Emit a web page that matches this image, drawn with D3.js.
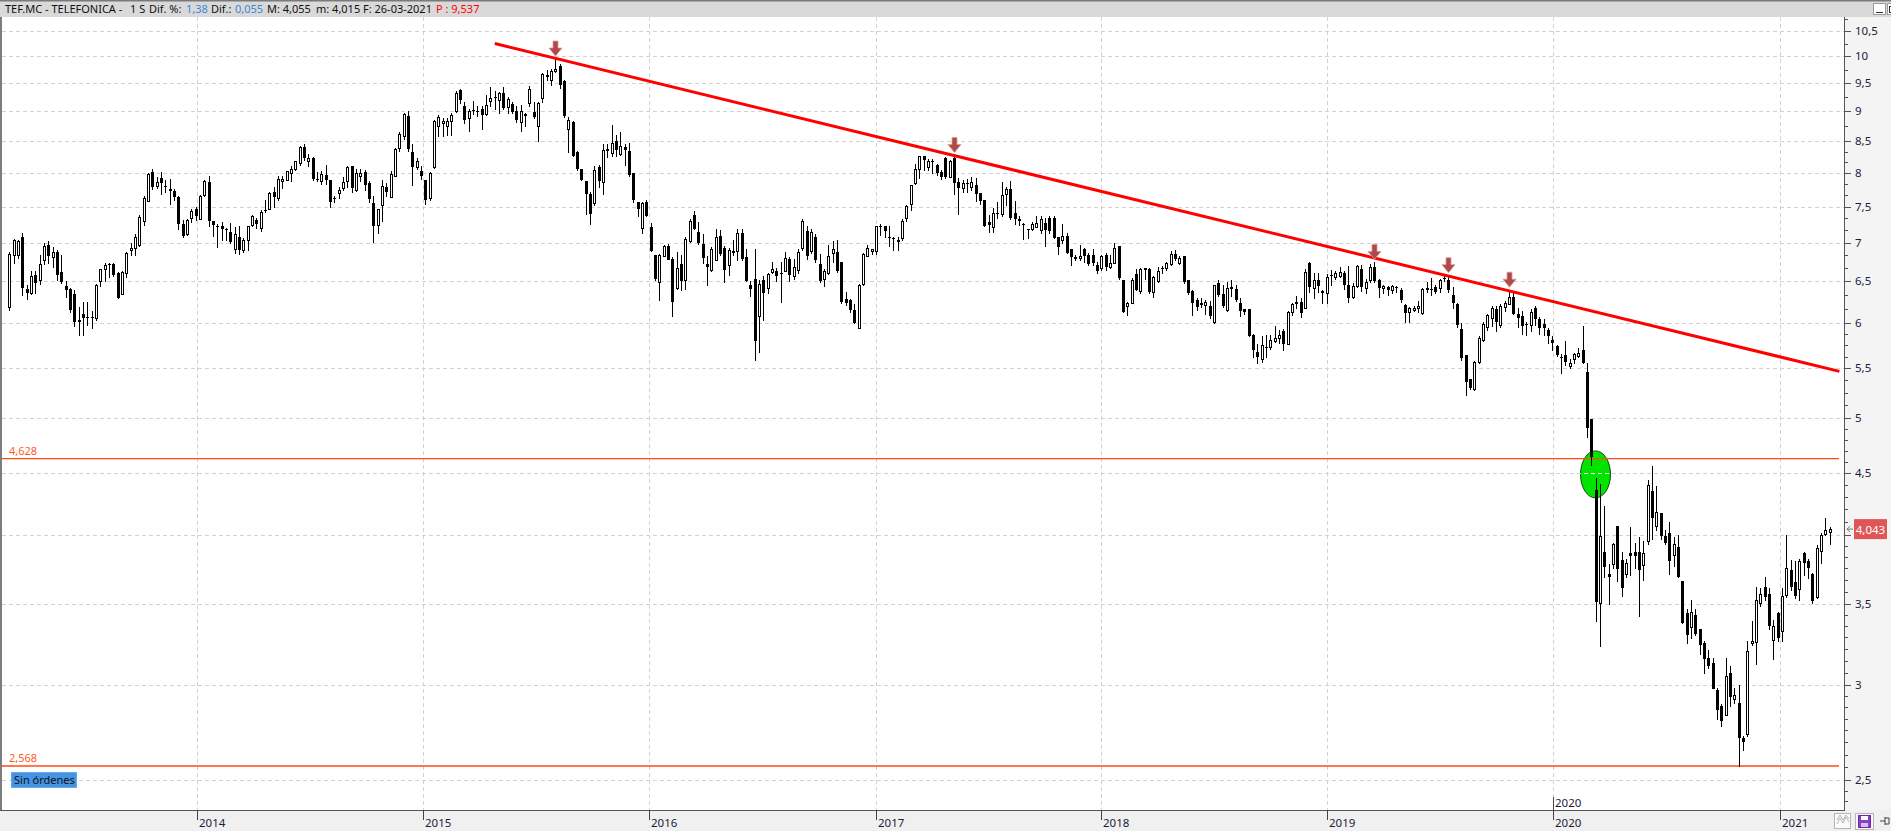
<!DOCTYPE html>
<html>
<head>
<meta charset="utf-8">
<script src="https://cdn.jsdelivr.net/npm/d3@7"></script>
<style>
  body { margin: 0; background: #fff; overflow: hidden; }
  svg { display: block; font-family: "Noto Sans", "DejaVu Sans", sans-serif; }
</style>
</head>
<body>
<svg id="chart" width="1891" height="831"></svg>
<script>
// weekly candles (monday of each week), first one is 2013-03-04
const firstWeek = new Date(2013, 2, 4);

// [open, high, low, close], one array per year
const ohlc2013 = [
  [6.19,6.88,6.15,6.85],[6.83,7.05,6.73,7.03],[6.83,7.04,6.80,7.02],[7.08,7.13,6.33,6.42],
  [6.41,6.45,6.28,6.36],[6.36,6.63,6.34,6.57],[6.58,6.63,6.36,6.48],[6.52,6.84,6.47,6.72],
  [6.77,6.99,6.72,6.95],[6.97,7.02,6.73,6.82],[6.80,6.94,6.68,6.87],[6.87,6.90,6.51,6.58],
  [6.62,6.84,6.48,6.50],[6.44,6.50,6.31,6.39],[6.40,6.42,6.13,6.15],[6.34,6.39,5.97,6.01],
  [6.03,6.19,5.87,6.01],[6.10,6.25,5.87,6.05],[6.07,6.25,5.98,6.06],[6.07,6.14,5.94,6.06],
  [6.07,6.47,6.03,6.46],[6.50,6.66,6.44,6.65],[6.66,6.73,6.50,6.71],[6.72,6.73,6.55,6.71],
  [6.72,6.73,6.57,6.58],[6.61,6.62,6.29,6.30],[6.35,6.63,6.34,6.62],[6.60,6.88,6.55,6.86],
  [6.91,7.00,6.84,6.93],[6.93,7.12,6.84,7.08],[6.96,7.38,6.95,7.35],[7.29,7.66,7.24,7.62],
  [7.59,8.00,7.58,7.99],[8.02,8.06,7.75,7.80],[7.80,7.94,7.77,7.86],[7.92,8.02,7.68,7.85],
  [7.80,7.89,7.72,7.79],[7.75,7.90,7.54,7.72],[7.73,7.76,7.60,7.64],[7.64,7.65,7.18,7.26],
  [7.26,7.31,7.07,7.10],[7.11,7.33,7.10,7.31],[7.34,7.46,7.28,7.44],[7.47,7.49,7.31,7.37]
];
const ohlc2014 = [
  [7.33,7.67,7.32,7.66],[7.67,7.89,7.65,7.88],[7.86,7.95,7.22,7.29],[7.29,7.29,7.09,7.23],
  [7.22,7.25,6.94,7.21],[7.22,7.28,7.04,7.18],[7.18,7.20,7.04,7.17],[7.15,7.27,6.99,7.01],
  [6.92,7.21,6.86,7.12],[7.08,7.22,6.85,6.90],[6.89,7.06,6.87,7.03],[7.03,7.23,6.90,7.22],
  [7.24,7.38,7.22,7.36],[7.31,7.34,7.20,7.25],[7.20,7.45,7.16,7.43],[7.45,7.60,7.43,7.44],
  [7.47,7.72,7.46,7.70],[7.71,7.79,7.50,7.64],[7.62,7.95,7.60,7.90],[7.87,7.95,7.77,7.90],
  [7.90,8.03,7.89,8.03],[8.00,8.10,7.88,8.06],[8.06,8.19,8.04,8.18],[8.14,8.42,8.13,8.40],
  [8.40,8.45,8.20,8.22],[8.20,8.30,8.10,8.24],[8.24,8.25,7.89,7.92],[7.91,8.02,7.87,7.90],
  [7.89,8.03,7.83,7.99],[7.97,8.12,7.83,7.89],[7.89,7.89,7.50,7.56],[7.62,7.65,7.56,7.60],
  [7.69,7.79,7.62,7.74],[7.77,7.94,7.74,7.86],[7.88,8.11,7.78,8.09],[8.10,8.11,7.71,7.77],
  [7.74,8.06,7.73,8.00],[7.96,8.06,7.87,8.00],[8.02,8.04,7.74,7.82],[7.85,7.88,7.57,7.62],
  [7.55,7.66,7.01,7.23],[7.23,7.47,7.13,7.46],[7.52,7.89,7.29,7.80],[7.78,7.84,7.65,7.70],
  [7.65,8.03,7.64,7.99],[7.96,8.39,7.95,8.38],[8.39,8.65,8.35,8.62],[8.58,8.97,8.54,8.95],
  [8.92,9.00,8.35,8.38],[8.33,8.45,7.82,8.10],[8.10,8.24,8.06,8.19],[8.03,8.10,7.91,7.96]
];
const ohlc2015 = [
  [7.89,7.89,7.54,7.60],[7.62,8.02,7.60,8.00],[8.09,8.85,8.08,8.83],[8.76,8.94,8.58,8.91],
  [8.80,8.88,8.58,8.84],[8.76,8.88,8.60,8.84],[8.83,8.97,8.60,8.94],[9.01,9.36,8.99,9.33],
  [9.37,9.40,9.15,9.20],[9.09,9.17,8.80,8.85],[8.89,9.04,8.67,9.01],[9.02,9.18,8.95,9.00],
  [9.01,9.10,8.93,9.00],[9.05,9.10,8.70,8.94],[8.95,9.28,8.94,9.11],[9.18,9.43,9.09,9.24],
  [9.26,9.36,9.04,9.25],[9.20,9.34,8.97,9.33],[9.33,9.44,9.04,9.07],[9.07,9.25,8.98,9.21],
  [9.13,9.16,8.97,8.99],[9.01,9.10,8.82,8.85],[8.82,9.11,8.67,9.01],[8.96,8.98,8.75,8.93],
  [9.14,9.45,9.10,9.39],[8.99,9.16,8.88,8.90],[8.75,9.17,8.50,9.14],[9.24,9.69,9.17,9.67],
  [9.66,9.75,9.55,9.63],[9.57,9.76,9.46,9.73],[9.74,9.95,9.71,9.77],[9.81,9.86,9.42,9.46],
  [9.54,9.55,8.90,8.92],[8.71,8.90,8.32,8.86],[8.82,8.84,8.27,8.27],[8.32,8.34,8.04,8.06],
  [8.06,8.06,7.89,7.89],[7.87,7.87,7.39,7.68],[7.69,7.72,7.25,7.40],[7.55,8.10,7.52,8.05],
  [8.09,8.12,7.79,7.87],[7.86,8.45,7.68,8.36],[8.38,8.45,8.25,8.35],[8.32,8.77,8.27,8.48],
  [8.50,8.60,8.27,8.36],[8.30,8.65,8.28,8.43],[8.40,8.45,8.12,8.35],[8.34,8.48,7.96,7.96],
  [8.00,8.00,7.57,7.59],[7.56,7.57,7.36,7.46],[7.20,7.56,7.13,7.55],[7.56,7.59,7.36,7.36]
];
const ohlc2016 = [
  [7.21,7.27,6.89,6.89],[6.83,6.84,6.52,6.52],[6.49,6.85,6.27,6.84],[6.83,6.97,6.82,6.96],
  [6.96,6.98,6.78,6.78],[6.79,6.81,6.08,6.25],[6.42,6.88,6.40,6.67],[6.72,6.84,6.39,6.50],
  [6.52,7.08,6.40,7.05],[7.02,7.32,7.01,7.30],[7.38,7.44,7.18,7.19],[7.14,7.28,6.98,6.99],
  [6.98,7.11,6.73,6.79],[6.72,6.82,6.46,6.68],[6.65,6.94,6.63,6.92],[6.78,7.19,6.77,7.08],
  [7.09,7.17,6.84,6.85],[6.93,6.95,6.49,6.64],[6.70,6.93,6.58,6.90],[6.89,7.04,6.83,6.87],
  [6.89,7.19,6.77,7.13],[7.13,7.19,6.77,6.78],[6.81,6.92,6.50,6.51],[6.45,6.50,6.32,6.40],
  [6.53,6.92,5.59,5.80],[6.08,6.52,5.68,6.47],[6.52,6.57,6.03,6.36],[6.42,6.61,6.36,6.59],
  [6.62,6.74,6.60,6.66],[6.63,6.67,6.50,6.57],[6.61,6.75,6.25,6.60],[6.63,6.88,6.63,6.80],
  [6.78,6.81,6.50,6.57],[6.57,6.79,6.53,6.68],[6.64,6.92,6.61,6.87],[6.92,7.32,6.90,7.29],
  [7.16,7.22,6.79,6.83],[6.89,7.18,6.86,7.14],[7.08,7.11,6.75,6.77],[6.72,6.85,6.49,6.51],
  [6.53,6.65,6.44,6.63],[6.60,6.97,6.59,6.82],[6.87,7.02,6.74,6.92],[6.87,7.03,6.62,6.63],
  [6.74,6.74,6.24,6.24],[6.28,6.37,6.21,6.23],[6.27,6.28,6.13,6.15],[6.15,6.22,6.00,6.00],
  [5.95,6.47,5.94,6.46],[6.47,6.86,6.46,6.85],[6.83,6.97,6.82,6.93],[6.88,6.92,6.85,6.91]
];
const ohlc2017 = [
  [6.88,7.23,6.85,7.22],[7.23,7.25,7.10,7.21],[7.22,7.23,7.08,7.15],[7.07,7.23,6.95,7.06],
  [7.06,7.07,6.90,7.05],[7.02,7.07,6.90,7.04],[7.07,7.33,7.04,7.30],[7.34,7.52,7.29,7.51],
  [7.53,7.82,7.45,7.81],[7.84,8.14,7.83,8.06],[8.05,8.27,7.93,8.26],[8.26,8.27,8.04,8.19],
  [8.09,8.21,8.04,8.18],[8.18,8.21,8.00,8.16],[8.13,8.14,7.97,8.00],[8.02,8.04,7.90,7.94],
  [8.24,8.25,7.93,7.94],[7.95,8.20,7.94,8.19],[8.24,8.27,7.68,7.86],[7.86,7.93,7.40,7.77],
  [7.77,7.89,7.72,7.85],[7.84,7.90,7.72,7.83],[7.78,7.94,7.74,7.86],[7.82,7.93,7.58,7.69],
  [7.70,7.70,7.54,7.58],[7.59,7.60,7.22,7.22],[7.28,7.38,7.15,7.24],[7.21,7.48,7.15,7.41],
  [7.41,7.57,7.34,7.40],[7.40,7.86,7.36,7.67],[7.67,7.79,7.52,7.75],[7.75,7.87,7.32,7.33],
  [7.41,7.58,7.26,7.32],[7.32,7.36,7.24,7.29],[7.25,7.27,7.05,7.24],[7.18,7.19,7.06,7.17],
  [7.18,7.28,7.17,7.25],[7.22,7.37,7.21,7.27],[7.18,7.36,7.13,7.33],[7.27,7.34,6.95,7.17],
  [7.34,7.36,7.13,7.16],[7.34,7.36,7.06,7.07],[7.07,7.08,6.85,6.93],[7.04,7.25,6.99,7.09],
  [7.09,7.13,6.86,6.86],[6.91,6.92,6.71,6.80],[6.81,6.83,6.77,6.79],[6.79,6.97,6.77,6.82],
  [6.91,6.93,6.75,6.82],[6.84,6.86,6.71,6.72],[6.84,6.91,6.71,6.73],[6.71,6.74,6.60,6.63]
];
const ohlc2018 = [
  [6.67,6.83,6.64,6.82],[6.83,6.86,6.64,6.68],[6.68,6.83,6.67,6.73],[6.74,6.99,6.74,6.93],
  [6.96,6.96,6.53,6.55],[6.52,6.52,6.13,6.13],[6.21,6.25,6.09,6.24],[6.24,6.54,6.23,6.52],
  [6.59,6.65,6.39,6.39],[6.37,6.67,6.36,6.65],[6.66,6.67,6.53,6.67],[6.66,6.67,6.35,6.37],
  [6.37,6.57,6.31,6.55],[6.50,6.68,6.49,6.63],[6.67,6.69,6.61,6.66],[6.66,6.75,6.64,6.73],
  [6.72,6.89,6.70,6.85],[6.85,6.90,6.77,6.79],[6.73,6.82,6.72,6.80],[6.82,6.82,6.48,6.49],
  [6.51,6.52,6.34,6.35],[6.38,6.39,6.09,6.23],[6.27,6.29,6.15,6.19],[6.22,6.30,6.19,6.23],
  [6.21,6.27,6.10,6.25],[6.20,6.26,6.06,6.08],[6.01,6.46,6.00,6.45],[6.48,6.52,6.32,6.33],
  [6.34,6.45,6.19,6.20],[6.15,6.49,6.14,6.42],[6.43,6.51,6.32,6.40],[6.40,6.45,6.26,6.27],
  [6.23,6.29,6.08,6.13],[6.16,6.16,6.10,6.13],[6.16,6.16,5.85,5.85],[5.86,5.88,5.62,5.69],
  [5.68,5.76,5.56,5.63],[5.60,5.85,5.57,5.75],[5.73,5.86,5.62,5.72],[5.73,5.86,5.71,5.81],
  [5.80,5.97,5.79,5.83],[5.83,5.92,5.77,5.86],[5.91,5.93,5.70,5.76],[5.77,6.14,5.76,6.13],
  [6.13,6.24,6.09,6.22],[6.24,6.32,6.17,6.25],[6.25,6.29,6.07,6.12],[6.18,6.65,6.17,6.62],
  [6.73,6.75,6.37,6.43],[6.41,6.61,6.30,6.51],[6.51,6.61,6.37,6.44],[6.38,6.39,6.23,6.36],
  [6.35,6.59,6.23,6.55]
];
const ohlc2019 = [
  [6.58,6.64,6.45,6.57],[6.55,6.63,6.53,6.60],[6.57,6.68,6.56,6.62],[6.61,6.63,6.41,6.46],
  [6.46,6.69,6.25,6.30],[6.30,6.48,6.30,6.44],[6.44,6.70,6.43,6.69],[6.65,6.70,6.38,6.42],
  [6.42,6.53,6.36,6.49],[6.51,6.72,6.49,6.68],[6.68,6.74,6.49,6.50],[6.51,6.53,6.31,6.41],
  [6.41,6.45,6.35,6.44],[6.43,6.44,6.33,6.39],[6.39,6.45,6.35,6.44],[6.43,6.44,6.37,6.42],
  [6.39,6.42,6.25,6.27],[6.21,6.22,6.01,6.12],[6.12,6.19,6.01,6.17],[6.16,6.20,6.14,6.18],
  [6.18,6.26,6.13,6.20],[6.11,6.42,6.10,6.40],[6.42,6.49,6.37,6.39],[6.41,6.54,6.33,6.40],
  [6.43,6.46,6.36,6.37],[6.41,6.53,6.37,6.51],[6.54,6.58,6.50,6.53],[6.52,6.57,6.37,6.40],
  [6.33,6.43,6.18,6.23],[6.22,6.23,5.96,5.98],[5.93,6.00,5.59,5.61],[5.64,5.64,5.23,5.36],
  [5.39,5.39,5.29,5.30],[5.29,5.58,5.28,5.57],[5.57,5.85,5.56,5.83],[5.81,6.01,5.80,5.99],
  [5.95,6.10,5.92,6.09],[6.05,6.20,5.97,6.17],[6.16,6.20,5.91,6.01],[5.98,6.22,5.96,6.20],
  [6.18,6.26,6.14,6.23],[6.23,6.39,6.22,6.31],[6.31,6.38,6.10,6.11],[6.11,6.18,5.96,6.06],
  [6.08,6.14,5.88,5.96],[5.99,6.01,5.86,5.98],[5.98,6.16,5.91,6.13],[6.18,6.20,5.98,6.05],
  [6.05,6.07,5.88,5.95],[5.99,6.05,5.86,5.94],[5.92,5.94,5.77,5.85],[5.81,5.85,5.70,5.78]
];
const ohlc2020 = [
  [5.74,5.75,5.63,5.64],[5.62,5.65,5.45,5.61],[5.64,5.80,5.54,5.57],[5.53,5.60,5.51,5.56],
  [5.60,5.67,5.56,5.65],[5.64,5.72,5.62,5.67],[5.70,5.97,5.56,5.56],[5.46,5.56,4.82,4.90],
  [4.99,4.99,4.57,4.64],[4.36,4.46,3.39,3.52],[3.51,4.41,3.23,3.99],[3.87,4.23,3.69,3.76],
  [3.71,3.78,3.50,3.69],[3.78,3.94,3.75,3.93],[4.07,4.07,3.66,3.75],[3.81,3.87,3.56,3.61],
  [3.71,3.82,3.69,3.79],[3.86,4.06,3.70,3.84],[3.87,3.94,3.75,3.84],[3.87,3.98,3.42,3.74],
  [3.77,3.95,3.67,3.86],[3.95,4.44,3.93,4.40],[4.35,4.56,3.97,4.13],[4.07,4.39,4.04,4.18],
  [4.17,4.17,3.97,3.99],[3.99,4.04,3.93,3.94],[4.01,4.10,3.71,3.80],[3.85,3.98,3.77,3.93],
  [3.91,4.00,3.69,3.69],[3.66,3.66,3.38,3.38],[3.44,3.47,3.25,3.30],[3.35,3.53,3.28,3.45],
  [3.43,3.47,3.30,3.31],[3.34,3.34,3.18,3.24],[3.25,3.26,3.07,3.15],[3.16,3.21,3.10,3.11],
  [3.13,3.16,2.98,2.98],[2.97,2.98,2.81,2.86],[2.88,2.89,2.77,2.80],[2.83,3.16,2.83,3.05],
  [3.07,3.11,2.88,2.93],[2.92,2.98,2.90,2.94],[2.90,3.00,2.57,2.71],[2.71,2.72,2.65,2.69],
  [2.73,3.26,2.72,3.20],[3.25,3.39,3.24,3.26],[3.26,3.62,3.12,3.53],[3.51,3.61,3.49,3.57],
  [3.62,3.69,3.53,3.55],[3.57,3.61,3.34,3.36],[3.27,3.40,3.15,3.36],[3.44,3.45,3.26,3.28]
];
const ohlc2021 = [
  [3.33,3.61,3.26,3.56],[3.56,4.00,3.55,3.75],[3.74,3.81,3.60,3.62],[3.65,3.80,3.54,3.55],
  [3.60,3.82,3.53,3.80],[3.86,3.87,3.70,3.79],[3.80,3.82,3.68,3.75],[3.71,3.72,3.51,3.52],
  [3.55,3.92,3.54,3.90],[3.88,4.01,3.79,4.00],[4.01,4.13,4.00,4.04],[4.02,4.06,3.93,4.043]
];

const yearTicks = [2014, 2015, 2016, 2017, 2018, 2019, 2020, 2021];
const priceTicks = [2.5, 3, 3.5, 4, 4.5, 5, 5.5, 6, 6.5, 7, 7.5, 8, 8.5, 9, 9.5, 10, 10.5];
const touchWeeks = [126, 218, 315, 332, 346];          // candles marked with an arrow
const trendStart = { date: new Date(2015, 3, 27), price: 10.25 };
const trendEnd = { date: new Date(2021, 3, 7), price: 5.47 };
const levels = [4.628, 2.568];
const lastPrice = 4.043;
const breakMark = { date: new Date(2020, 2, 9), price: 4.49 };

const headerParts = [
  { t: "TEF.MC - TELEFONICA -", x: 5, c: "#111" },
  { t: "1 S", x: 130, c: "#111" },
  { t: "Dif. %:", x: 149, c: "#111" },
  { t: "1,38", x: 186, c: "#3d86d6" },
  { t: "Dif.:", x: 211, c: "#111" },
  { t: "0,055", x: 235, c: "#3d86d6" },
  { t: "M: 4,055", x: 267, c: "#111" },
  { t: "m: 4,015", x: 316, c: "#111" },
  { t: "F: 26-03-2021", x: 363, c: "#111" },
  { t: "P : 9,537", x: 436, c: "#ff0000" }
];

const W = 1891, H = 831;
const plotTop = 17, plotBottom = 810, axisX = 1844;
const comma = v => String(v).replace(".", ",");

const candles = [].concat(ohlc2013, ohlc2014, ohlc2015, ohlc2016, ohlc2017,
                          ohlc2018, ohlc2019, ohlc2020, ohlc2021)
  .map((d, i) => ({ date: d3.timeWeek.offset(firstWeek, i), o: d[0], h: d[1], l: d[2], c: d[3] }));

const x = d3.scaleTime()
  .domain([new Date(2014, 0, 1), new Date(2021, 0, 1)])
  .range([197, 1780]);
const y = d3.scaleLog().domain([2.5, 10.5]).range([780, 31]);

const svg = d3.select("#chart");

// backgrounds
svg.append("rect").attr("width", W).attr("height", H).attr("fill", "#ffffff");
svg.append("rect").attr("x", axisX).attr("y", plotTop).attr("width", W - axisX).attr("height", H - plotTop).attr("fill", "#f4f4f4");
svg.append("rect").attr("x", 0).attr("y", plotBottom).attr("width", W).attr("height", H - plotBottom).attr("fill", "#f0f0f0");

// header bar
svg.append("rect").attr("width", W).attr("height", plotTop).attr("fill", "#d9d9d9");
svg.append("rect").attr("width", W).attr("height", 1.5).attr("fill", "#7a7a7a");
svg.append("g").selectAll("text").data(headerParts).join("text")
  .attr("x", d => d.x).attr("y", 13)
  .attr("font-size", 11)
  .attr("fill", d => d.c)
  .text(d => d.t);
svg.append("rect").attr("x", 1873.5).attr("y", 3.5).attr("width", 12).attr("height", 11)
  .attr("fill", "#fff").attr("stroke", "#9a9a9a");
svg.append("line").attr("x1", 1876).attr("x2", 1883).attr("y1", 12.5).attr("y2", 12.5).attr("stroke", "#333");
svg.append("rect").attr("x", 1887.5).attr("y", 3.5).attr("width", 12).attr("height", 11)
  .attr("fill", "#fff").attr("stroke", "#9a9a9a");
svg.append("rect").attr("x", 1889.5).attr("y", 6.5).attr("width", 6).attr("height", 6)
  .attr("fill", "none").attr("stroke", "#333");

const defs = svg.append("defs");
defs.append("clipPath").attr("id", "plot")
  .append("rect").attr("x", 2).attr("y", plotTop).attr("width", axisX - 2).attr("height", plotBottom - plotTop);

const plot = svg.append("g").attr("clip-path", "url(#plot)");

// green mark where price broke the 4,628 level
const mx = x(breakMark.date), my = y(breakMark.price);
plot.append("ellipse")
  .attr("cx", mx).attr("cy", my).attr("rx", 15).attr("ry", 23.5)
  .attr("fill", "#00e400").attr("stroke", "#0b4d0b").attr("stroke-width", 1);

// grid
const grid = plot.append("g").attr("stroke", "#d2d2d2").attr("stroke-dasharray", "4,3").attr("shape-rendering", "crispEdges");
grid.selectAll("line.h").data(priceTicks).join("line").attr("class", "h")
  .attr("x1", 2).attr("x2", axisX)
  .attr("y1", d => Math.round(y(d)) + 0.5).attr("y2", d => Math.round(y(d)) + 0.5);
grid.selectAll("line.v").data(yearTicks).join("line").attr("class", "v")
  .attr("x1", d => Math.round(x(new Date(d, 0, 1))) + 0.5).attr("x2", d => Math.round(x(new Date(d, 0, 1))) + 0.5)
  .attr("y1", plotTop).attr("y2", plotBottom);

// gridline shows white across the green mark
defs.append("clipPath").attr("id", "mark")
  .append("ellipse").attr("cx", mx).attr("cy", my).attr("rx", 14).attr("ry", 22.5);
svg.append("g").attr("clip-path", "url(#mark)")
  .selectAll("line").data(priceTicks).join("line")
  .attr("x1", 2).attr("x2", axisX)
  .attr("y1", d => Math.round(y(d)) + 0.5).attr("y2", d => Math.round(y(d)) + 0.5)
  .attr("stroke", "#ffffff").attr("stroke-dasharray", "4,3");

// horizontal levels
plot.selectAll("line.level").data(levels).join("line").attr("class", "level")
  .attr("x1", 2).attr("x2", 1839)
  .attr("y1", d => y(d)).attr("y2", d => y(d))
  .attr("stroke", "#ff4a10").attr("stroke-width", 1.4);
svg.selectAll("text.level").data(levels).join("text").attr("class", "level")
  .attr("x", 9).attr("y", d => y(d) - 4)
  .attr("font-size", 11).attr("fill", "#ff5a1e")
  .text(d => comma(d));

// candles
const cg = plot.append("g").attr("shape-rendering", "crispEdges");
const cand = cg.selectAll("g").data(candles).join("g")
  .attr("transform", d => `translate(${Math.round(x(d.date))},0)`);
cand.append("line")
  .attr("x1", 0.5).attr("x2", 0.5)
  .attr("y1", d => Math.round(y(d.h))).attr("y2", d => Math.round(y(d.l)) + 1)
  .attr("stroke", "#000");
cand.append("rect")
  .attr("x", d => d.c >= d.o ? -0.5 : -1)
  .attr("y", d => Math.round(y(Math.max(d.o, d.c))) + (d.c >= d.o ? 0.5 : 0))
  .attr("width", d => d.c >= d.o ? 2 : 3)
  .attr("height", d => Math.max(1, Math.round(Math.abs(y(d.o) - y(d.c)))))
  .attr("fill", d => d.c >= d.o ? "#fff" : "#000")
  .attr("stroke", d => d.c >= d.o ? "#000" : "none");

// resistance line
plot.append("line")
  .attr("x1", x(trendStart.date)).attr("y1", y(trendStart.price))
  .attr("x2", x(trendEnd.date)).attr("y2", y(trendEnd.price))
  .attr("stroke", "#ff0000").attr("stroke-width", 3);

// arrows over the touches
plot.selectAll("path.touch").data(touchWeeks.map(i => candles[i])).join("path").attr("class", "touch")
  .attr("transform", d => `translate(${Math.round(x(d.date)) + 0.5},${y(d.h) - 3})`)
  .attr("d", "M-2.5,-15H2.5V-8H6.5L0,0L-6.5,-8H-2.5Z")
  .attr("fill", "#b04a48").attr("stroke", "#d59a98").attr("stroke-width", 0.8);

// left border
svg.append("rect").attr("x", 0).attr("y", plotTop).attr("width", 2).attr("height", plotBottom - plotTop).attr("fill", "#7d7d7d");

// "Sin órdenes" tag
svg.append("rect").attr("x", 11.5).attr("y", 772.5).attr("width", 65).attr("height", 15)
  .attr("fill", "#4493e4").attr("stroke", "#6aa9ea");
svg.append("text").attr("x", 14).attr("y", 784).attr("font-size", 11).attr("fill", "#111").text("Sin órdenes");

// right price axis
const ly = y(lastPrice);
const ax = svg.append("g").attr("shape-rendering", "crispEdges");
ax.append("line").attr("x1", axisX + 0.5).attr("x2", axisX + 0.5).attr("y1", plotTop).attr("y2", plotBottom)
  .attr("stroke", "#555");
ax.selectAll("line.major").data(priceTicks).join("line").attr("class", "major")
  .attr("x1", axisX).attr("x2", axisX + 7)
  .attr("y1", d => Math.round(y(d)) + 0.5).attr("y2", d => Math.round(y(d)) + 0.5)
  .attr("stroke", "#555");
const minor = [];
[2].concat(priceTicks).forEach(a => {
  const b = a + 0.5;
  const n = Math.max(2, Math.round((y(a) - y(b)) / 12));
  for (let k = 1; k < n; k++) {
    const v = a + k * 0.5 / n;
    if (y(v) > plotTop + 1 && y(v) < plotBottom - 1) minor.push(v);
  }
});
ax.selectAll("line.minor").data(minor).join("line").attr("class", "minor")
  .attr("x1", axisX).attr("x2", axisX + 4)
  .attr("y1", d => Math.round(y(d)) + 0.5).attr("y2", d => Math.round(y(d)) + 0.5)
  .attr("stroke", "#555");
// the last-price tag hides the tick label it sits on
svg.selectAll("text.price").data(priceTicks.filter(p => Math.abs(y(p) - ly) > 14)).join("text").attr("class", "price")
  .attr("x", axisX + 11).attr("y", d => y(d) + 4)
  .attr("font-size", 11.5).attr("fill", "#1c1c3a")
  .text(d => comma(d));

// last price label
svg.append("path").attr("d", `M1853,${ly}h-6m3,-3l-3,3l3,3`).attr("stroke", "#777").attr("fill", "none");
svg.append("rect").attr("x", 1854).attr("y", ly - 10).attr("width", 33).attr("height", 20).attr("fill", "#e05656");
svg.append("text").attr("x", 1870.5).attr("y", ly + 4.5).attr("text-anchor", "middle")
  .attr("font-size", 11.5).attr("fill", "#fff").text(comma(lastPrice));

// time axis
const bx = svg.append("g").attr("shape-rendering", "crispEdges");
bx.append("line").attr("x1", 0).attr("x2", axisX + 1).attr("y1", plotBottom + 0.5).attr("y2", plotBottom + 0.5)
  .attr("stroke", "#555");
bx.selectAll("line.year").data(yearTicks).join("line").attr("class", "year")
  .attr("x1", d => Math.round(x(new Date(d, 0, 1))) + 0.5).attr("x2", d => Math.round(x(new Date(d, 0, 1))) + 0.5)
  .attr("y1", plotBottom).attr("y2", plotBottom + 10)
  .attr("stroke", "#444");
svg.selectAll("text.year").data(yearTicks).join("text").attr("class", "year")
  .attr("x", d => Math.round(x(new Date(d, 0, 1))) + 2).attr("y", 827)
  .attr("font-size", 11.5).attr("fill", "#1c1c3a")
  .text(d => d);

// year marker sitting above the axis
const m20 = Math.round(x(new Date(2020, 0, 1))) + 0.5;
bx.append("line").attr("x1", m20).attr("x2", m20).attr("y1", plotBottom - 13).attr("y2", plotBottom).attr("stroke", "#444");
svg.append("text").attr("x", m20 + 1.5).attr("y", plotBottom - 3).attr("font-size", 11.5).attr("fill", "#1c1c3a").text("2020");

// little toolbar icons bottom right
svg.append("rect").attr("x", 1834.5).attr("y", 813.5).attr("width", 16).attr("height", 15)
  .attr("fill", "#fafafa").attr("stroke", "#b5b5b5");
svg.append("path").attr("d", "M1837,824l3,-6l3,5l3,-6l3,5M1837,820l3,-5l3,5l3,-5l3,4")
  .attr("fill", "none").attr("stroke", "#b8b8b8");
svg.append("rect").attr("x", 1855.5).attr("y", 813.5).attr("width", 18).attr("height", 16)
  .attr("fill", "#fafafa").attr("stroke", "#b5b5b5");
svg.append("rect").attr("x", 1858.5).attr("y", 815.5).attr("width", 12).attr("height", 12)
  .attr("fill", "#8a3fc4").attr("stroke", "#6d2aa3");
svg.append("rect").attr("x", 1861).attr("y", 816).attr("width", 7).attr("height", 4).attr("fill", "#fff");
svg.append("rect").attr("x", 1861).attr("y", 823).attr("width", 7).attr("height", 4).attr("fill", "#d8c0ee");
svg.append("path").attr("d", "M1880,821h5M1885,817v8M1885,818h4v6h-4")
  .attr("fill", "none").attr("stroke", "#444");
</script>
</body>
</html>
